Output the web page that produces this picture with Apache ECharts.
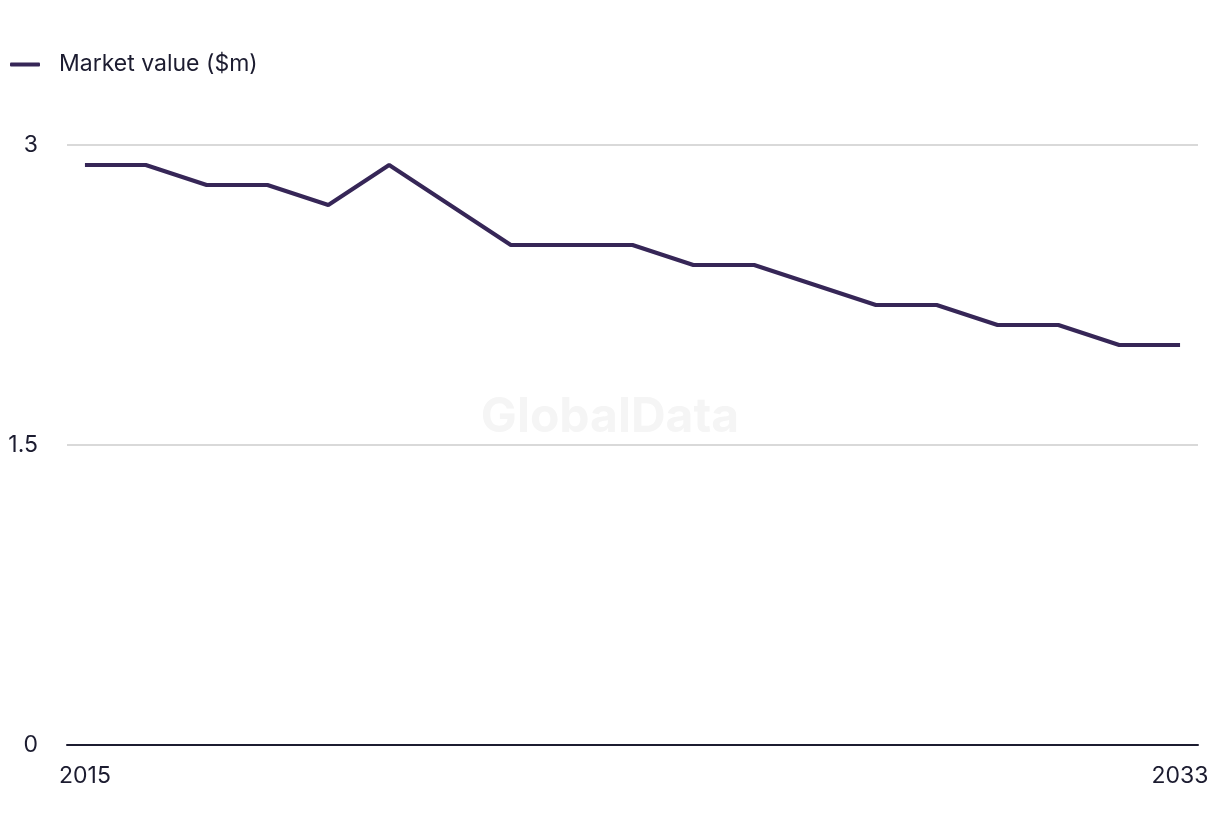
<!DOCTYPE html>
<html>
<head>
<meta charset="utf-8">
<script src="https://cdn.jsdelivr.net/npm/echarts@6/dist/echarts.min.js"></script>
<style>html,body{margin:0;padding:0;background:#fff;}#c{width:1220px;height:836px;}</style>
</head>
<body>
<div id="c"></div>
<script>
const years = [2015,2016,2017,2018,2019,2020,2021,2022,2023,2024,2025,2026,2027,2028,2029,2030,2031,2032,2033];
const marketValue = [2.9,2.9,2.8,2.8,2.7,2.9,2.7,2.5,2.5,2.5,2.4,2.4,2.3,2.2,2.2,2.1,2.1,2.0,2.0];
const xTickLabels = [2015, 2033];
const yTicks = [0, 1.5, 3];
const seriesName = 'Market value ($m)';

const chart = echarts.init(document.getElementById('c'));
const font = 'Inter, "Noto Sans", sans-serif';
chart.setOption({
  animation: false,
  backgroundColor: '#fff',
  graphic: [{
    type: 'text', left: 'center', top: 394, z: 0,
    style: { text: 'GlobalData', font: 'bold 48px ' + font, fill: '#f5f5f5' }
  }],
  legend: {
    left: 5, top: 48, itemWidth: 30, itemHeight: 4, itemGap: 20,
    icon: 'roundRect',
    textStyle: { fontFamily: font, fontSize: 23, color: '#1c1c30', padding: [0,0,0,14] },
    data: [seriesName]
  },
  grid: { left: 67, right: 22, top: 145, bottom: 91, containLabel: false },
  xAxis: {
    type: 'value', min: 2014.705, max: 2033.295,
    axisLine: { show: true, lineStyle: { color: '#1c1c30', width: 2 } },
    axisTick: { show: false },
    splitLine: { show: false },
    axisLabel: { customValues: xTickLabels, fontFamily: font, fontSize: 23, color: '#1c1c30', margin: 20, formatter: v => String(v) }
  },
  yAxis: {
    type: 'value', min: 0, max: 3, interval: 1.5,
    axisLine: { show: false }, axisTick: { show: false },
    splitLine: { lineStyle: { color: '#d9d9d9', width: 2 } },
    axisLabel: { customValues: yTicks, fontFamily: font, fontSize: 23, color: '#1c1c30', margin: 29, formatter: v => String(v) }
  },
  series: [{
    name: seriesName, type: 'line', showSymbol: false, symbol: 'none',
    data: years.map((y, i) => [y, marketValue[i]]),
    lineStyle: { color: '#362657', width: 4 },
    itemStyle: { color: '#362657' },
    z: 5
  }]
});
</script>
</body>
</html>
